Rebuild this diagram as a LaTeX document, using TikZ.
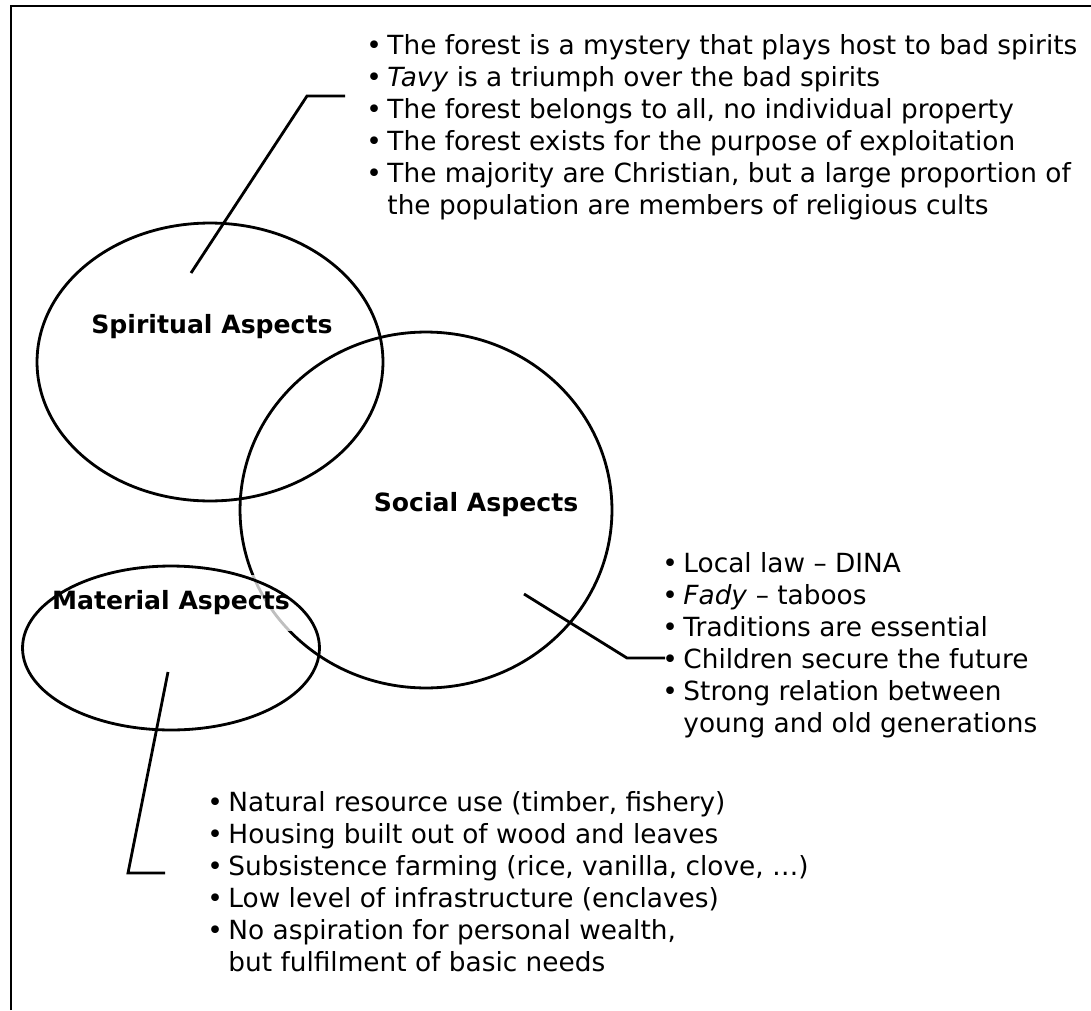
\documentclass[tikz,border=0pt]{standalone}
\usepackage{fontspec}
\setmainfont{DejaVu Sans}
\usetikzlibrary{positioning}

\newcommand{\bul}{\makebox[12pt][l]{\textbullet}}
\newcommand{\cont}{\makebox[12pt]{}}

\begin{document}
\begin{tikzpicture}[x=0.02cm, y=-0.02cm,
 ring/.style={line width=1.6pt},
 lead/.style={line width=1.6pt},
 head/.style={font=\fontsize{14.3}{17}\selectfont\bfseries, inner sep=1pt},
 list/.style={align=left, inner sep=0pt, font=\fontsize{15}{18.2}\selectfont},
]
\useasboundingbox (0,0) rectangle (1091,1010);
\draw[line width=1.2pt] (11,1010) -- (11,6) -- (1091,6);
% the three aspects
\draw[ring] (210,362) ellipse [x radius=3.46cm, y radius=2.78cm];
\draw[ring] (426,510) ellipse [x radius=3.72cm, y radius=3.56cm];
\node[head] (spirit) at (212,327) {Spiritual Aspects};
\node[head] (social) at (476,505) {Social Aspects};
\node[head, fill=white, fill opacity=0.75, text opacity=1, inner ysep=9pt] (material) at (171,603) {Material Aspects};
\draw[ring] (171,648) ellipse [x radius=2.97cm, y radius=1.64cm];
% lists
\node[list, anchor=north west] (spiritlist) at (366,34) {\bul The forest is a mystery that plays host to bad spirits\\
\bul \textit{Tavy} is a triumph over the bad spirits\\
\bul The forest belongs to all, no individual property\\
\bul The forest exists for the purpose of exploitation\\
\bul The majority are Christian, but a large proportion of\\
\cont the population are members of religious cults};
\node[list, anchor=north west] (sociallist) at (662,552) {\bul Local law -- DINA\\
\bul \textit{Fady} -- taboos\\
\bul Traditions are essential\\
\bul Children secure the future\\
\bul Strong relation between\\
\cont young and old generations};
\node[list, anchor=north west] (materiallist) at (207,791) {\bul Natural resource use (timber, fishery)\\
\bul Housing built out of wood and leaves\\
\bul Subsistence farming (rice, vanilla, clove, \dots)\\
\bul Low level of infrastructure (enclaves)\\
\bul No aspiration for personal wealth,\\
\cont but fulfilment of basic needs};
% leader lines
\coordinate (s0) at (191,273);
\coordinate (s1) at (307,96);
\coordinate (s2) at (345,96);
\coordinate (c0) at (524,594);
\coordinate (c1) at (627,658);
\coordinate (c2) at (665,658);
\coordinate (m0) at (168,672);
\coordinate (m1) at (128,873);
\coordinate (m2) at (165,873);
\draw[lead] (s0) -- (s1) -- (s2);
\draw[lead] (c0) -- (c1) -- (c2);
\draw[lead] (m0) -- (m1) -- (m2);
\end{tikzpicture}
\end{document}
